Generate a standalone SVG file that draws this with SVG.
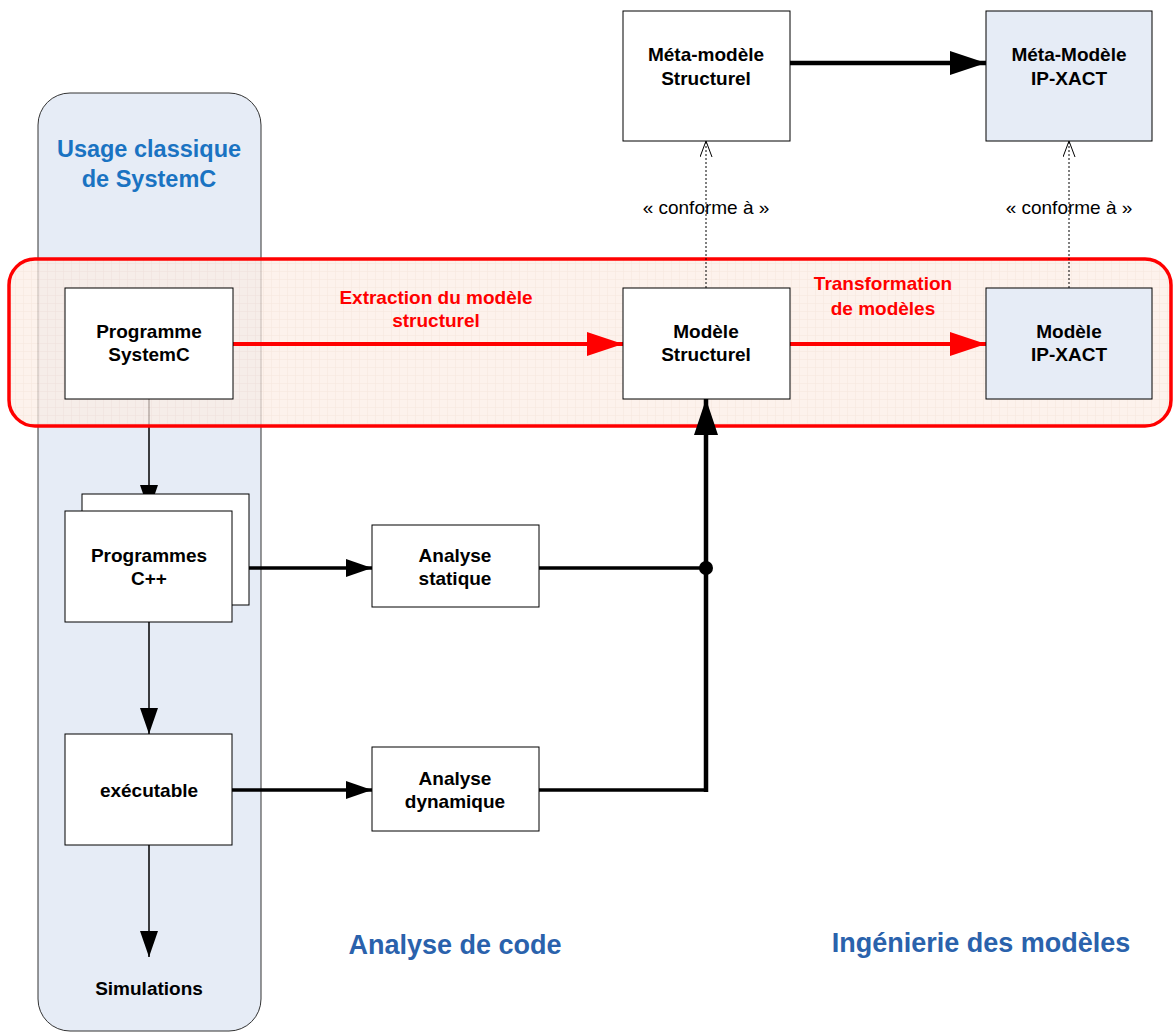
<svg xmlns="http://www.w3.org/2000/svg" width="1174" height="1036" viewBox="0 0 1174 1036">
  <defs>
    <style>
      .node { fill: #ffffff; stroke: #000000; stroke-width: 1; }
      .node-blue { fill: #e6ecf6; stroke: #000000; stroke-width: 1; }
      .lbl { font-family: "Liberation Sans", Arial, sans-serif; font-size: 19px; font-weight: bold; fill: #000000; text-anchor: middle; }
      .red-lbl { font-family: "Liberation Sans", Arial, sans-serif; font-size: 19px; font-weight: bold; fill: #ff0000; text-anchor: middle; }
      .conf { font-family: "Liberation Sans", Arial, sans-serif; font-size: 19px; fill: #000000; text-anchor: middle; }
      .title { font-family: "Liberation Sans", Arial, sans-serif; font-size: 27px; font-weight: bold; fill: #2a62ac; text-anchor: middle; }
      .col-title { font-family: "Liberation Sans", Arial, sans-serif; font-size: 23.5px; font-weight: bold; fill: #1a73c2; text-anchor: middle; }
      .thin { stroke: #000000; stroke-width: 1.5; fill: none; }
      .mid { stroke: #000000; stroke-width: 3.5; fill: none; }
      .thick { stroke: #000000; stroke-width: 4.5; fill: none; }
      .red { stroke: #ff0000; stroke-width: 4; fill: none; }
      .dotted { stroke: #000000; stroke-width: 1; stroke-dasharray: 2 2; fill: none; }
    </style>
    <pattern id="grid" width="8" height="8" patternUnits="userSpaceOnUse">
      <rect width="8" height="8" fill="#fcede4"/>
      <path d="M8 0 V8 M0 8 H8" stroke="#f3dcd0" stroke-width="1" fill="none"/>
    </pattern>
    <marker id="headBig" markerUnits="userSpaceOnUse" markerWidth="36" markerHeight="26" refX="36" refY="12" orient="auto">
      <path d="M0 0 L36 12 L0 24 Z" fill="#000000"/>
    </marker>
    <marker id="headRed" markerUnits="userSpaceOnUse" markerWidth="36" markerHeight="26" refX="36" refY="12" orient="auto">
      <path d="M0 0 L36 12 L0 24 Z" fill="#ff0000"/>
    </marker>
    <marker id="headMid" markerUnits="userSpaceOnUse" markerWidth="26" markerHeight="20" refX="26" refY="9" orient="auto">
      <path d="M0 0 L26 9 L0 18 Z" fill="#000000"/>
    </marker>
    <marker id="headOpen" markerUnits="userSpaceOnUse" markerWidth="18" markerHeight="14" refX="16" refY="6" orient="auto">
      <path d="M0 0 L16 6 L0 12" fill="none" stroke="#000000" stroke-width="1"/>
    </marker>
  </defs>

  <rect width="1174" height="1036" fill="#ffffff"/>

  <!-- lane: classic SystemC flow -->
  <g id="lane-systemc">
    <rect x="38" y="93" width="223" height="938" rx="32" ry="32" fill="#e6ecf6" stroke="#333333" stroke-width="1"/>
    <text class="col-title" x="149" y="157">Usage classique</text>
    <text class="col-title" x="149" y="187">de SystemC</text>
  </g>

  <!-- flow down the lane (drawn under the highlight band) -->
  <g id="lane-connectors">
    <line class="thin" x1="149" y1="399" x2="149" y2="511" marker-end="url(#headMid)"/>
    <line class="thin" x1="149" y1="622" x2="149" y2="734" marker-end="url(#headMid)"/>
    <line class="thin" x1="149" y1="845" x2="149" y2="957" marker-end="url(#headMid)"/>
  </g>

  <!-- highlight band for the model transformation chain -->
  <g id="band">
    <rect x="9" y="259" width="1162" height="167" rx="26" ry="26" fill="url(#grid)" fill-opacity="0.72" stroke="#ff0000" stroke-width="3.5"/>
  </g>

  <!-- connectors -->
  <g id="connectors">
    <line class="red" x1="233" y1="344" x2="623" y2="344" marker-end="url(#headRed)"/>
    <line class="red" x1="790" y1="344" x2="986" y2="344" marker-end="url(#headRed)"/>
    <line class="thick" x1="790" y1="63" x2="986" y2="63" marker-end="url(#headBig)"/>
    <line class="dotted" x1="706" y1="288" x2="706" y2="141" marker-end="url(#headOpen)"/>
    <line class="dotted" x1="1069" y1="288" x2="1069" y2="141" marker-end="url(#headOpen)"/>
    <line class="mid" x1="232" y1="568" x2="372" y2="568" marker-end="url(#headMid)"/>
    <line class="mid" x1="232" y1="790" x2="372" y2="790" marker-end="url(#headMid)"/>
    <line class="mid" x1="539" y1="568" x2="706" y2="568"/>
    <line class="mid" x1="539" y1="790" x2="706" y2="790"/>
    <line class="thick" x1="706" y1="792" x2="706" y2="399" marker-end="url(#headBig)"/>
    <circle cx="706" cy="568" r="7" fill="#000000"/>
    <text class="red-lbl" x="436" y="304">Extraction du modèle</text>
    <text class="red-lbl" x="436" y="327">structurel</text>
    <text class="red-lbl" x="883" y="290">Transformation</text>
    <text class="red-lbl" x="883" y="315">de modèles</text>
    <text class="conf" x="706" y="214">« conforme à »</text>
    <text class="conf" x="1069" y="214">« conforme à »</text>
  </g>

  <g id="meta-structurel">
    <rect class="node" x="623" y="11" width="167" height="130"/>
    <text class="lbl" x="706" y="61">Méta-modèle</text>
    <text class="lbl" x="706" y="85">Structurel</text>
  </g>

  <g id="meta-ipxact">
    <rect class="node-blue" x="986" y="11" width="166" height="130"/>
    <text class="lbl" x="1069" y="61">Méta-Modèle</text>
    <text class="lbl" x="1069" y="85">IP-XACT</text>
  </g>

  <g id="programme-systemc">
    <rect class="node" x="65" y="288" width="168" height="111"/>
    <text class="lbl" x="149" y="338">Programme</text>
    <text class="lbl" x="149" y="361">SystemC</text>
  </g>

  <g id="modele-structurel">
    <rect class="node" x="623" y="288" width="167" height="111"/>
    <text class="lbl" x="706" y="338">Modèle</text>
    <text class="lbl" x="706" y="361">Structurel</text>
  </g>

  <g id="modele-ipxact">
    <rect class="node-blue" x="986" y="288" width="166" height="111"/>
    <text class="lbl" x="1069" y="338">Modèle</text>
    <text class="lbl" x="1069" y="361">IP-XACT</text>
  </g>

  <g id="programmes-cpp">
    <rect class="node" x="82" y="494" width="167" height="111"/>
    <rect class="node" x="65" y="511" width="167" height="111"/>
    <text class="lbl" x="149" y="562">Programmes</text>
    <text class="lbl" x="149" y="585">C++</text>
  </g>

  <g id="executable">
    <rect class="node" x="65" y="734" width="167" height="111"/>
    <text class="lbl" x="149" y="797">exécutable</text>
  </g>

  <g id="simulations">
    <text class="lbl" x="149" y="995">Simulations</text>
  </g>

  <g id="analyse-statique">
    <rect class="node" x="372" y="525" width="167" height="82"/>
    <text class="lbl" x="455" y="562">Analyse</text>
    <text class="lbl" x="455" y="585">statique</text>
  </g>

  <g id="analyse-dynamique">
    <rect class="node" x="372" y="747" width="167" height="84"/>
    <text class="lbl" x="455" y="785">Analyse</text>
    <text class="lbl" x="455" y="808">dynamique</text>
  </g>

  <g id="section-titles">
    <text class="title" x="455" y="954">Analyse de code</text>
    <text class="title" x="981" y="952">Ingénierie des modèles</text>
  </g>
</svg>
